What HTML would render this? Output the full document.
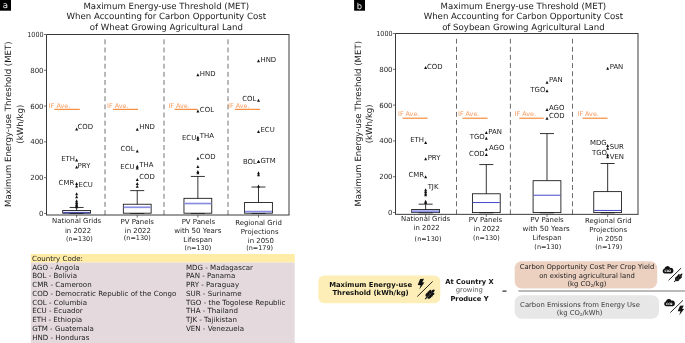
<!DOCTYPE html>
<html><head><meta charset="utf-8"><title>Maximum Energy-use Threshold (MET)</title>
<style>
html,body{margin:0;padding:0;background:#fff;}
body{width:685px;height:343px;overflow:hidden;}
svg{display:block;font-family:"DejaVu Sans","Liberation Sans",sans-serif;will-change:transform;text-rendering:geometricPrecision;}
</style></head><body>
<svg width="685" height="343" viewBox="0 0 685 343">
<rect x="0" y="0" width="685" height="343" fill="#fff"/>
<rect x="30.8" y="253.9" width="263.9" height="8.7" fill="#ffeca6"/>
<rect x="30.8" y="262.6" width="263.9" height="81" fill="#e4dadd"/>
<text x="32.1" y="261.2" font-size="7.09" fill="#222">Country Code:</text>
<text x="32.2" y="269.75" font-size="7.09" fill="#1c1c1c">AGO - Angola</text>
<text x="32.2" y="278.48" font-size="7.09" fill="#1c1c1c">BOL - Bolivia</text>
<text x="32.2" y="287.21" font-size="7.09" fill="#1c1c1c">CMR - Cameroon</text>
<text x="32.2" y="295.94" font-size="7.09" fill="#1c1c1c">COD - Democratic Republic of the Congo</text>
<text x="32.2" y="304.67" font-size="7.09" fill="#1c1c1c">COL - Columbia</text>
<text x="32.2" y="313.40" font-size="7.09" fill="#1c1c1c">ECU - Ecuador</text>
<text x="32.2" y="322.13" font-size="7.09" fill="#1c1c1c">ETH - Ethiopia</text>
<text x="32.2" y="330.86" font-size="7.09" fill="#1c1c1c">GTM - Guatemala</text>
<text x="32.2" y="339.59" font-size="7.09" fill="#1c1c1c">HND - Honduras</text>
<text x="186.0" y="269.75" font-size="7.09" fill="#1c1c1c">MDG - Madagascar</text>
<text x="186.0" y="278.48" font-size="7.09" fill="#1c1c1c">PAN - Panama</text>
<text x="186.0" y="287.21" font-size="7.09" fill="#1c1c1c">PRY - Paraguay</text>
<text x="186.0" y="295.94" font-size="7.09" fill="#1c1c1c">SUR - Suriname</text>
<text x="186.0" y="304.67" font-size="7.09" fill="#1c1c1c">TGO - the Togolese Republic</text>
<text x="186.0" y="313.40" font-size="7.09" fill="#1c1c1c">THA - Thailand</text>
<text x="186.0" y="322.13" font-size="7.09" fill="#1c1c1c">TJK - Tajikistan</text>
<text x="186.0" y="330.86" font-size="7.09" fill="#1c1c1c">VEN - Venezuela</text>
<rect x="0" y="0" width="11.0" height="10.7" fill="#000"/>
<text x="5.5" y="7.9" font-size="8.61" text-anchor="middle" fill="#eee">a</text>
<text x="166.3" y="8.7" font-size="8.59" text-anchor="middle" fill="#1a1a1a">Maximum Energy-use Threshold (MET)</text>
<text x="166.3" y="19.2" font-size="8.59" text-anchor="middle" fill="#1a1a1a">When Accounting for Carbon Opportunity Cost</text>
<text x="166.3" y="29.7" font-size="8.59" text-anchor="middle" fill="#1a1a1a">of Wheat Growing Agricultural Land</text>
<line x1="105.0" y1="215.0" x2="105.0" y2="38.8" stroke="#727272" stroke-width="1" stroke-dasharray="4.9 3.23"/>
<line x1="164.0" y1="215.0" x2="164.0" y2="38.8" stroke="#727272" stroke-width="1" stroke-dasharray="4.9 3.23"/>
<line x1="228.0" y1="215.0" x2="228.0" y2="38.8" stroke="#727272" stroke-width="1" stroke-dasharray="4.9 3.23"/>
<line x1="54.3" y1="109.35" x2="79.8" y2="109.35" stroke="#f5832f" stroke-width="1.1"/>
<text x="48.8" y="108.44999999999999" font-size="6.41" fill="#f79a5c">IF Ave.</text>
<line x1="113" y1="109.35" x2="138" y2="109.35" stroke="#f5832f" stroke-width="1.1"/>
<text x="107.1" y="108.44999999999999" font-size="6.41" fill="#f79a5c">IF Ave.</text>
<line x1="174.5" y1="109.35" x2="197.5" y2="109.35" stroke="#f5832f" stroke-width="1.1"/>
<text x="168.4" y="108.44999999999999" font-size="6.41" fill="#f79a5c">IF Ave.</text>
<line x1="234.8" y1="109.35" x2="260" y2="109.35" stroke="#f5832f" stroke-width="1.1"/>
<text x="228.1" y="108.44999999999999" font-size="6.41" fill="#f79a5c">IF Ave.</text>
<rect x="62.71" y="210.51" width="27.80" height="2.69" fill="#fff" stroke="#111" stroke-width="0.85"/>
<line x1="63.11" y1="212.57" x2="90.11" y2="212.57" stroke="#474bb0" stroke-width="1.4"/>
<line x1="76.61" y1="210.51" x2="76.61" y2="207.46" stroke="#111" stroke-width="0.85"/>
<line x1="69.61" y1="207.46" x2="83.61" y2="207.46" stroke="#111" stroke-width="0.85"/>
<line x1="69.61" y1="213.50" x2="83.61" y2="213.50" stroke="#111" stroke-width="0.7"/>
<rect x="123.34" y="204.23" width="27.80" height="8.97" fill="#fff" stroke="#111" stroke-width="0.85"/>
<line x1="123.74" y1="207.28" x2="150.74" y2="207.28" stroke="#8a8ee2" stroke-width="1.7"/>
<line x1="137.24" y1="204.23" x2="137.24" y2="190.61" stroke="#111" stroke-width="0.85"/>
<line x1="130.24" y1="190.61" x2="144.24" y2="190.61" stroke="#111" stroke-width="0.85"/>
<line x1="130.24" y1="213.50" x2="144.24" y2="213.50" stroke="#111" stroke-width="0.7"/>
<rect x="183.96" y="198.32" width="27.80" height="14.88" fill="#fff" stroke="#111" stroke-width="0.85"/>
<line x1="184.36" y1="203.52" x2="211.36" y2="203.52" stroke="#8a8ee2" stroke-width="1.7"/>
<line x1="197.86" y1="198.32" x2="197.86" y2="176.44" stroke="#111" stroke-width="0.85"/>
<line x1="190.86" y1="176.44" x2="204.86" y2="176.44" stroke="#111" stroke-width="0.85"/>
<line x1="190.86" y1="213.50" x2="204.86" y2="213.50" stroke="#111" stroke-width="0.7"/>
<rect x="244.59" y="202.44" width="27.80" height="10.76" fill="#fff" stroke="#111" stroke-width="0.85"/>
<line x1="244.99" y1="211.59" x2="271.99" y2="211.59" stroke="#8a8ee2" stroke-width="1.7"/>
<line x1="258.49" y1="202.44" x2="258.49" y2="187.02" stroke="#111" stroke-width="0.85"/>
<line x1="251.49" y1="187.02" x2="265.49" y2="187.02" stroke="#111" stroke-width="0.85"/>
<line x1="251.49" y1="213.50" x2="265.49" y2="213.50" stroke="#111" stroke-width="0.7"/>
<path d="M75.11 130.43L78.11 130.43L76.61 127.43Z" fill="#111"/>
<text x="77.41" y="129.03" font-size="6.93" fill="#222">COD</text>
<path d="M75.11 161.45L78.11 161.45L76.61 158.45Z" fill="#111"/>
<text x="75.01" y="160.85" font-size="6.93" text-anchor="end" fill="#222">ETH</text>
<path d="M75.11 168.44L78.11 168.44L76.61 165.44Z" fill="#111"/>
<text x="77.61" y="167.54" font-size="6.93" fill="#222">PRY</text>
<path d="M75.11 184.94L78.11 184.94L76.61 181.94Z" fill="#111"/>
<text x="74.21" y="185.14" font-size="6.93" text-anchor="end" fill="#222">CMR</text>
<path d="M75.11 187.45L78.11 187.45L76.61 184.45Z" fill="#111"/>
<text x="78.61" y="187.25" font-size="6.93" fill="#222">ECU</text>
<path d="M75.11 195.34L78.11 195.34L76.61 192.34Z" fill="#111"/>
<path d="M75.11 198.20L78.11 198.20L76.61 195.20Z" fill="#111"/>
<path d="M75.11 202.15L78.11 202.15L76.61 199.15Z" fill="#111"/>
<path d="M75.11 203.94L78.11 203.94L76.61 200.94Z" fill="#111"/>
<path d="M75.11 205.38L78.11 205.38L76.61 202.38Z" fill="#111"/>
<path d="M75.11 206.45L78.11 206.45L76.61 203.45Z" fill="#111"/>
<path d="M75.11 207.53L78.11 207.53L76.61 204.53Z" fill="#111"/>
<path d="M75.11 208.25L78.11 208.25L76.61 205.25Z" fill="#111"/>
<path d="M135.74 130.79L138.74 130.79L137.24 127.79Z" fill="#111"/>
<text x="139.24" y="129.29" font-size="6.93" fill="#222">HND</text>
<path d="M135.74 152.48L138.74 152.48L137.24 149.48Z" fill="#111"/>
<text x="134.64" y="150.58" font-size="6.93" text-anchor="end" fill="#222">COL</text>
<path d="M135.74 167.72L138.74 167.72L137.24 164.72Z" fill="#111"/>
<text x="134.64" y="168.62" font-size="6.93" text-anchor="end" fill="#222">ECU</text>
<path d="M135.74 169.52L138.74 169.52L137.24 166.52Z" fill="#111"/>
<text x="139.24" y="166.62" font-size="6.93" fill="#222">THA</text>
<path d="M135.74 180.99L138.74 180.99L137.24 177.99Z" fill="#111"/>
<text x="139.24" y="178.79" font-size="6.93" fill="#222">COD</text>
<path d="M135.74 184.94L138.74 184.94L137.24 181.94Z" fill="#111"/>
<path d="M135.74 187.81L138.74 187.81L137.24 184.81Z" fill="#111"/>
<path d="M196.36 76.28L199.36 76.28L197.86 73.28Z" fill="#111"/>
<text x="199.86" y="76.08" font-size="6.93" fill="#222">HND</text>
<path d="M196.36 112.50L199.36 112.50L197.86 109.50Z" fill="#111"/>
<text x="199.86" y="112.30" font-size="6.93" fill="#222">COL</text>
<path d="M196.36 138.68L199.36 138.68L197.86 135.68Z" fill="#111"/>
<text x="196.26" y="139.68" font-size="6.93" text-anchor="end" fill="#222">ECU</text>
<path d="M196.36 140.83L199.36 140.83L197.86 137.83Z" fill="#111"/>
<text x="199.86" y="138.43" font-size="6.93" fill="#222">THA</text>
<path d="M196.36 159.65L199.36 159.65L197.86 156.65Z" fill="#111"/>
<text x="199.86" y="159.05" font-size="6.93" fill="#222">COD</text>
<path d="M196.36 168.08L199.36 168.08L197.86 165.08Z" fill="#111"/>
<path d="M196.36 173.10L199.36 173.10L197.86 170.10Z" fill="#111"/>
<path d="M196.36 174.18L199.36 174.18L197.86 171.18Z" fill="#111"/>
<path d="M256.99 62.29L259.99 62.29L258.49 59.29Z" fill="#111"/>
<text x="260.49" y="62.09" font-size="6.93" fill="#222">HND</text>
<path d="M256.99 101.74L259.99 101.74L258.49 98.74Z" fill="#111"/>
<text x="256.39" y="100.84" font-size="6.93" text-anchor="end" fill="#222">COL</text>
<path d="M256.99 133.12L259.99 133.12L258.49 130.12Z" fill="#111"/>
<text x="260.49" y="132.22" font-size="6.93" fill="#222">ECU</text>
<path d="M256.99 163.06L259.99 163.06L258.49 160.06Z" fill="#111"/>
<text x="256.89" y="163.56" font-size="6.93" text-anchor="end" fill="#222">BOL</text>
<path d="M256.99 163.06L259.99 163.06L258.49 160.06Z" fill="#111"/>
<text x="260.49" y="162.86" font-size="6.93" fill="#222">GTM</text>
<path d="M256.99 174.18L259.99 174.18L258.49 171.18Z" fill="#111"/>
<path d="M256.99 176.15L259.99 176.15L258.49 173.15Z" fill="#111"/>
<path d="M256.99 187.45L259.99 187.45L258.49 184.45Z" fill="#111"/>
<path d="M46.5 215.0L46.5 34.5L289.0 34.5" fill="none" stroke="#3a3a3a" stroke-width="1" stroke-linejoin="miter"/>
<path d="M46.0 215.0L289.5 215.0M289.0 34.0L289.0 215.0" fill="none" stroke="#3a3a3a" stroke-width="1"/>
<line x1="43.9" y1="213.45" x2="46.5" y2="213.45" stroke="#3a3a3a" stroke-width="0.7"/>
<text x="43.6" y="216.00" font-size="7.04" text-anchor="end" fill="#222">0</text>
<line x1="43.9" y1="177.66" x2="46.5" y2="177.66" stroke="#3a3a3a" stroke-width="0.7"/>
<text x="43.6" y="180.21" font-size="7.04" text-anchor="end" fill="#222">200</text>
<line x1="43.9" y1="141.87" x2="46.5" y2="141.87" stroke="#3a3a3a" stroke-width="0.7"/>
<text x="43.6" y="144.42" font-size="7.04" text-anchor="end" fill="#222">400</text>
<line x1="43.9" y1="106.08" x2="46.5" y2="106.08" stroke="#3a3a3a" stroke-width="0.7"/>
<text x="43.6" y="108.63" font-size="7.04" text-anchor="end" fill="#222">600</text>
<line x1="43.9" y1="70.29" x2="46.5" y2="70.29" stroke="#3a3a3a" stroke-width="0.7"/>
<text x="43.6" y="72.84" font-size="7.04" text-anchor="end" fill="#222">800</text>
<line x1="43.9" y1="34.50" x2="46.5" y2="34.50" stroke="#3a3a3a" stroke-width="0.7"/>
<text x="43.6" y="37.05" font-size="7.04" text-anchor="end" fill="#222" textLength="16.3" lengthAdjust="spacingAndGlyphs">1000</text>
<line x1="76.61" y1="215.0" x2="76.61" y2="217.6" stroke="#3a3a3a" stroke-width="0.7"/>
<text x="76.61" y="223.3" font-size="6.93" text-anchor="middle" fill="#222">National Grids</text>
<text x="78.01" y="232.7" font-size="6.93" text-anchor="middle" fill="#222">in 2022</text>
<text x="79.31" y="240.9" font-size="6.46" text-anchor="middle" fill="#222">(n=130)</text>
<line x1="137.24" y1="215.0" x2="137.24" y2="217.6" stroke="#3a3a3a" stroke-width="0.7"/>
<text x="137.24" y="223.6" font-size="6.93" text-anchor="middle" fill="#222">PV Panels</text>
<text x="137.84" y="232.6" font-size="6.93" text-anchor="middle" fill="#222">in 2022</text>
<text x="137.24" y="239.8" font-size="6.46" text-anchor="middle" fill="#222">(n=130)</text>
<line x1="197.86" y1="215.0" x2="197.86" y2="217.6" stroke="#3a3a3a" stroke-width="0.7"/>
<text x="198.36" y="224.1" font-size="6.93" text-anchor="middle" fill="#222">PV Panels</text>
<text x="197.86" y="232.9" font-size="7.09" text-anchor="middle" fill="#222">with 50 Years</text>
<text x="197.86" y="242.0" font-size="6.93" text-anchor="middle" fill="#222">Lifespan</text>
<text x="197.86" y="250.0" font-size="6.46" text-anchor="middle" fill="#222">(n=130)</text>
<line x1="258.49" y1="215.0" x2="258.49" y2="217.6" stroke="#3a3a3a" stroke-width="0.7"/>
<text x="258.49" y="224.8" font-size="6.93" text-anchor="middle" fill="#222">Regional Grid</text>
<text x="259.69" y="233.8" font-size="6.93" text-anchor="middle" fill="#222">Projections</text>
<text x="260.79" y="242.5" font-size="6.93" text-anchor="middle" fill="#222">in 2050</text>
<text x="259.59" y="250.4" font-size="6.46" text-anchor="middle" fill="#222">(n=179)</text>
<text transform="translate(11.35,124.20) rotate(-90)" font-size="8.59" text-anchor="middle" fill="#1a1a1a">Maximum Energy-use Threshold (MET)</text>
<text transform="translate(22.5,124.20) rotate(-90)" font-size="8.59" text-anchor="middle" fill="#1a1a1a">(kWh/kg)</text>
<rect x="354.1" y="0" width="10.9" height="10.7" fill="#000"/>
<text x="359.4" y="8.6" font-size="8.29" text-anchor="middle" fill="#eee">b</text>
<text x="523.4" y="8.7" font-size="8.59" text-anchor="middle" fill="#1a1a1a">Maximum Energy-use Threshold (MET)</text>
<text x="523.4" y="19.2" font-size="8.59" text-anchor="middle" fill="#1a1a1a">When Accounting for Carbon Opportunity Cost</text>
<text x="523.4" y="29.7" font-size="8.59" text-anchor="middle" fill="#1a1a1a">of Soybean Growing Agricultural Land</text>
<line x1="456.5" y1="214.35" x2="456.5" y2="38.8" stroke="#6c6c6c" stroke-width="1" stroke-dasharray="4.9 3.23"/>
<line x1="510.4" y1="214.35" x2="510.4" y2="38.8" stroke="#6c6c6c" stroke-width="1" stroke-dasharray="4.9 3.23"/>
<line x1="572.5" y1="214.35" x2="572.5" y2="38.8" stroke="#6c6c6c" stroke-width="1" stroke-dasharray="4.9 3.23"/>
<line x1="402.5" y1="118.2" x2="427.5" y2="118.2" stroke="#f5832f" stroke-width="1.1"/>
<text x="398" y="116.2" font-size="6.41" fill="#f79a5c">IF Ave.</text>
<line x1="462.5" y1="118.2" x2="487.5" y2="118.2" stroke="#f5832f" stroke-width="1.1"/>
<text x="458" y="116.2" font-size="6.41" fill="#f79a5c">IF Ave.</text>
<line x1="519.3" y1="118.2" x2="543.7" y2="118.2" stroke="#f5832f" stroke-width="1.1"/>
<text x="514.7" y="116.2" font-size="6.41" fill="#f79a5c">IF Ave.</text>
<line x1="582.5" y1="118.2" x2="607.5" y2="118.2" stroke="#f5832f" stroke-width="1.1"/>
<text x="577.5" y="116.2" font-size="6.41" fill="#f79a5c">IF Ave.</text>
<rect x="411.74" y="209.55" width="27.80" height="3.05" fill="#fff" stroke="#111" stroke-width="0.85"/>
<line x1="412.14" y1="211.26" x2="439.14" y2="211.26" stroke="#9498e8" stroke-width="2.0"/>
<line x1="425.64" y1="209.55" x2="425.64" y2="204.18" stroke="#111" stroke-width="0.85"/>
<line x1="418.64" y1="204.18" x2="432.64" y2="204.18" stroke="#111" stroke-width="0.85"/>
<line x1="418.64" y1="212.90" x2="432.64" y2="212.90" stroke="#111" stroke-width="0.7"/>
<rect x="472.41" y="193.78" width="27.80" height="18.82" fill="#fff" stroke="#111" stroke-width="0.85"/>
<line x1="472.81" y1="202.56" x2="499.81" y2="202.56" stroke="#4448c4" stroke-width="1.0"/>
<line x1="486.31" y1="193.78" x2="486.31" y2="164.57" stroke="#111" stroke-width="0.85"/>
<line x1="479.31" y1="164.57" x2="493.31" y2="164.57" stroke="#111" stroke-width="0.85"/>
<line x1="479.31" y1="212.90" x2="493.31" y2="212.90" stroke="#111" stroke-width="0.7"/>
<rect x="533.09" y="180.70" width="27.80" height="31.90" fill="#fff" stroke="#111" stroke-width="0.85"/>
<line x1="533.49" y1="195.22" x2="560.49" y2="195.22" stroke="#4448c4" stroke-width="1.0"/>
<line x1="546.99" y1="180.70" x2="546.99" y2="133.57" stroke="#111" stroke-width="0.85"/>
<line x1="539.99" y1="133.57" x2="553.99" y2="133.57" stroke="#111" stroke-width="0.85"/>
<line x1="539.99" y1="212.90" x2="553.99" y2="212.90" stroke="#111" stroke-width="0.7"/>
<rect x="593.76" y="191.63" width="27.80" height="20.97" fill="#fff" stroke="#111" stroke-width="0.85"/>
<line x1="594.16" y1="210.45" x2="621.16" y2="210.45" stroke="#4448c4" stroke-width="1.0"/>
<line x1="607.66" y1="191.63" x2="607.66" y2="163.50" stroke="#111" stroke-width="0.85"/>
<line x1="600.66" y1="163.50" x2="614.66" y2="163.50" stroke="#111" stroke-width="0.85"/>
<line x1="600.66" y1="212.90" x2="614.66" y2="212.90" stroke="#111" stroke-width="0.7"/>
<path d="M424.14 68.95L427.14 68.95L425.64 65.95Z" fill="#111"/>
<text x="426.94" y="68.65" font-size="6.93" fill="#222">COD</text>
<path d="M424.14 144.03L427.14 144.03L425.64 141.03Z" fill="#111"/>
<text x="424.04" y="141.93" font-size="6.93" text-anchor="end" fill="#222">ETH</text>
<path d="M424.14 160.34L427.14 160.34L425.64 157.34Z" fill="#111"/>
<text x="427.64" y="160.14" font-size="6.93" fill="#222">PRY</text>
<path d="M424.14 178.35L427.14 178.35L425.64 175.35Z" fill="#111"/>
<text x="424.04" y="176.85" font-size="6.93" text-anchor="end" fill="#222">CMR</text>
<path d="M424.14 191.16L427.14 191.16L425.64 188.16Z" fill="#111"/>
<text x="427.64" y="188.96" font-size="6.93" fill="#222">TJK</text>
<path d="M424.14 192.95L427.14 192.95L425.64 189.95Z" fill="#111"/>
<path d="M424.14 194.75L427.14 194.75L425.64 191.75Z" fill="#111"/>
<path d="M424.14 196.18L427.14 196.18L425.64 193.18Z" fill="#111"/>
<path d="M424.14 202.63L427.14 202.63L425.64 199.63Z" fill="#111"/>
<path d="M424.14 204.06L427.14 204.06L425.64 201.06Z" fill="#111"/>
<path d="M484.81 134.09L487.81 134.09L486.31 131.09Z" fill="#111"/>
<text x="488.31" y="133.59" font-size="6.93" fill="#222">PAN</text>
<path d="M484.81 139.82L487.81 139.82L486.31 136.82Z" fill="#111"/>
<text x="484.71" y="139.42" font-size="6.93" text-anchor="end" fill="#222">TGO</text>
<path d="M484.81 150.75L487.81 150.75L486.31 147.75Z" fill="#111"/>
<text x="489.01" y="150.25" font-size="6.93" fill="#222">AGO</text>
<path d="M484.81 155.95L487.81 155.95L486.31 152.95Z" fill="#111"/>
<text x="484.71" y="155.55" font-size="6.93" text-anchor="end" fill="#222">COD</text>
<path d="M545.49 83.64L548.49 83.64L546.99 80.64Z" fill="#111"/>
<text x="548.99" y="82.19" font-size="6.93" fill="#222">PAN</text>
<path d="M545.49 92.24L548.49 92.24L546.99 89.24Z" fill="#111"/>
<text x="545.39" y="91.94" font-size="6.93" text-anchor="end" fill="#222">TGO</text>
<path d="M545.49 111.06L548.49 111.06L546.99 108.06Z" fill="#111"/>
<text x="548.99" y="110.46" font-size="6.93" fill="#222">AGO</text>
<path d="M545.49 119.66L548.49 119.66L546.99 116.66Z" fill="#111"/>
<text x="548.99" y="118.46" font-size="6.93" fill="#222">COD</text>
<path d="M606.16 69.84L609.16 69.84L607.66 66.84Z" fill="#111"/>
<text x="609.66" y="69.34" font-size="6.93" fill="#222">PAN</text>
<path d="M606.16 146.90L609.16 146.90L607.66 143.90Z" fill="#111"/>
<text x="606.66" y="144.70" font-size="6.93" text-anchor="end" fill="#222">MDG</text>
<path d="M606.16 149.84L609.16 149.84L607.66 146.84Z" fill="#111"/>
<text x="609.66" y="149.34" font-size="6.93" fill="#222">SUR</text>
<path d="M606.16 156.22L609.16 156.22L607.66 153.22Z" fill="#111"/>
<text x="606.96" y="154.82" font-size="6.93" text-anchor="end" fill="#222">TGO</text>
<path d="M606.16 158.19L609.16 158.19L607.66 155.19Z" fill="#111"/>
<text x="609.66" y="158.79" font-size="6.93" fill="#222">VEN</text>
<path d="M395.5 214.35L395.5 33.5L638.0 33.5" fill="none" stroke="#3a3a3a" stroke-width="1" stroke-linejoin="miter"/>
<path d="M395.0 214.35L638.5 214.35M638.0 33.0L638.0 214.35" fill="none" stroke="#3a3a3a" stroke-width="1"/>
<line x1="392.9" y1="212.50" x2="395.5" y2="212.50" stroke="#3a3a3a" stroke-width="0.7"/>
<text x="392.6" y="215.05" font-size="7.04" text-anchor="end" fill="#222">0</text>
<line x1="392.9" y1="176.70" x2="395.5" y2="176.70" stroke="#3a3a3a" stroke-width="0.7"/>
<text x="392.6" y="179.25" font-size="7.04" text-anchor="end" fill="#222">200</text>
<line x1="392.9" y1="140.90" x2="395.5" y2="140.90" stroke="#3a3a3a" stroke-width="0.7"/>
<text x="392.6" y="143.45" font-size="7.04" text-anchor="end" fill="#222">400</text>
<line x1="392.9" y1="105.10" x2="395.5" y2="105.10" stroke="#3a3a3a" stroke-width="0.7"/>
<text x="392.6" y="107.65" font-size="7.04" text-anchor="end" fill="#222">600</text>
<line x1="392.9" y1="69.30" x2="395.5" y2="69.30" stroke="#3a3a3a" stroke-width="0.7"/>
<text x="392.6" y="71.85" font-size="7.04" text-anchor="end" fill="#222">800</text>
<line x1="392.9" y1="33.50" x2="395.5" y2="33.50" stroke="#3a3a3a" stroke-width="0.7"/>
<text x="392.6" y="36.05" font-size="7.04" text-anchor="end" fill="#222" textLength="16.3" lengthAdjust="spacingAndGlyphs">1000</text>
<line x1="425.64" y1="214.35" x2="425.64" y2="216.95" stroke="#3a3a3a" stroke-width="0.7"/>
<text x="425.64" y="221.4" font-size="6.93" text-anchor="middle" fill="#222">National Grids</text>
<text x="426.64" y="230.0" font-size="6.93" text-anchor="middle" fill="#222">in 2022</text>
<text x="428.04" y="240.6" font-size="6.46" text-anchor="middle" fill="#222">(n=130)</text>
<line x1="486.31" y1="214.35" x2="486.31" y2="216.95" stroke="#3a3a3a" stroke-width="0.7"/>
<text x="485.51" y="222.4" font-size="6.93" text-anchor="middle" fill="#222">PV Panels</text>
<text x="486.81" y="231.4" font-size="6.93" text-anchor="middle" fill="#222">in 2022</text>
<text x="486.31" y="239.5" font-size="6.46" text-anchor="middle" fill="#222">(n=130)</text>
<line x1="546.99" y1="214.35" x2="546.99" y2="216.95" stroke="#3a3a3a" stroke-width="0.7"/>
<text x="546.99" y="222.3" font-size="6.93" text-anchor="middle" fill="#222">PV Panels</text>
<text x="546.19" y="231.2" font-size="7.09" text-anchor="middle" fill="#222">with 50 Years</text>
<text x="546.99" y="239.5" font-size="6.93" text-anchor="middle" fill="#222">Lifespan</text>
<text x="547.79" y="248.7" font-size="6.46" text-anchor="middle" fill="#222">(n=130)</text>
<line x1="607.66" y1="214.35" x2="607.66" y2="216.95" stroke="#3a3a3a" stroke-width="0.7"/>
<text x="608.36" y="222.7" font-size="6.93" text-anchor="middle" fill="#222">Regional Grid</text>
<text x="608.16" y="232.1" font-size="6.93" text-anchor="middle" fill="#222">Projections</text>
<text x="609.56" y="241.2" font-size="6.93" text-anchor="middle" fill="#222">in 2050</text>
<text x="608.76" y="249.0" font-size="6.46" text-anchor="middle" fill="#222">(n=179)</text>
<text transform="translate(361.1,123.80) rotate(-90)" font-size="8.59" text-anchor="middle" fill="#1a1a1a">Maximum Energy-use Threshold (MET)</text>
<text transform="translate(372.3,123.80) rotate(-90)" font-size="8.59" text-anchor="middle" fill="#1a1a1a">(kWh/kg)</text>
<rect x="318.3" y="275.5" width="122.0" height="27.8" rx="6" ry="6" fill="#fdeeb8"/>
<text x="370.6" y="286.6" font-size="6.83" text-anchor="middle" fill="#111" font-weight="bold">Maximum Energy-use</text>
<text x="370.6" y="294.7" font-size="6.88" text-anchor="middle" fill="#111" font-weight="bold">Threshold (kWh/kg)</text>
<text x="469.5" y="283.9" font-size="6.72" text-anchor="middle" fill="#111" font-weight="bold">At Country X</text>
<text x="469.3" y="291.9" font-size="6.83" text-anchor="middle" fill="#555">growing</text>
<text x="469.5" y="300.5" font-size="6.72" text-anchor="middle" fill="#111" font-weight="bold">Produce Y</text>
<text x="504.6" y="292.7" font-size="6.51" text-anchor="middle" fill="#333">=</text>
<rect x="514.7" y="261.2" width="142.5" height="27.3" rx="7" ry="7" fill="#ecd1c1"/>
<text x="587" y="269.0" font-size="6.83" text-anchor="middle" fill="#222">Carbon Opportunity Cost Per Crop Yield</text>
<text x="587" y="277.6" font-size="6.83" text-anchor="middle" fill="#222">on existing agricultural land</text>
<text x="587" y="285.7" font-size="6.83" text-anchor="middle" fill="#222">(kg CO<tspan font-size="4" dy="0.8">2</tspan><tspan dy="-0.8">/kg)</tspan></text>
<line x1="518.4" y1="290.9" x2="685" y2="290.9" stroke="#a3a3a3" stroke-width="1.5"/>
<rect x="514.7" y="295.2" width="144.3" height="23.5" rx="7" ry="7" fill="#e7e7e7"/>
<text x="580" y="306.5" font-size="6.83" text-anchor="middle" fill="#3a3a3a">Carbon Emissions from Energy Use</text>
<text x="579.6" y="315.4" font-size="6.83" text-anchor="middle" fill="#3a3a3a">(kg CO<tspan font-size="4" dy="0.8">2</tspan><tspan dy="-0.8">/kWh)</tspan></text>
<path d="M420.11 278.92L424.06 278.70L422.32 282.30L424.40 282.62L419.38 289.60L420.58 285.24L417.70 285.02Z" fill="#111"/>
<line x1="417.3" y1="296.5" x2="432.7" y2="281.4" stroke="#111" stroke-width="0.9"/>
<g transform="translate(425.5,288.9) scale(1.22) rotate(45 4 4)" fill="#111">
<ellipse cx="4" cy="1.0" rx="1.05" ry="1.7"/>
<ellipse cx="2.55" cy="2.9" rx="1.05" ry="1.6" transform="rotate(-28 2.55 2.9)"/>
<ellipse cx="5.45" cy="2.9" rx="1.05" ry="1.6" transform="rotate(28 5.45 2.9)"/>
<ellipse cx="2.55" cy="4.8" rx="1.05" ry="1.6" transform="rotate(-28 2.55 4.8)"/>
<ellipse cx="5.45" cy="4.8" rx="1.05" ry="1.6" transform="rotate(28 5.45 4.8)"/>
<ellipse cx="2.55" cy="6.699999999999999" rx="1.05" ry="1.6" transform="rotate(-28 2.55 6.699999999999999)"/>
<ellipse cx="5.45" cy="6.699999999999999" rx="1.05" ry="1.6" transform="rotate(28 5.45 6.699999999999999)"/>
<rect x="3.6" y="1" width="0.8" height="9.2"/>
</g>
<g transform="translate(662.2,265.9) scale(1.08 1.17)">
<path d="M2.1 6.5A2.05 2.05 0 0 1 2.0 2.5A2.9 2.9 0 0 1 7.4 1.7A2.45 2.45 0 0 1 8.4 6.5Z" fill="#111"/>
<text x="5.2" y="5.6" font-size="2.7" text-anchor="middle" fill="#fff" font-weight="bold">CO2</text>
</g>
<line x1="668.6" y1="280.3" x2="681.1" y2="268.1" stroke="#111" stroke-width="0.9"/>
<g transform="translate(674.6,273.1) scale(1.05) rotate(45 4 4)" fill="#111">
<ellipse cx="4" cy="1.0" rx="0.84" ry="1.7"/>
<ellipse cx="2.84" cy="2.9" rx="0.84" ry="1.6" transform="rotate(-28 2.84 2.9)"/>
<ellipse cx="5.16" cy="2.9" rx="0.84" ry="1.6" transform="rotate(28 5.16 2.9)"/>
<ellipse cx="2.84" cy="4.8" rx="0.84" ry="1.6" transform="rotate(-28 2.84 4.8)"/>
<ellipse cx="5.16" cy="4.8" rx="0.84" ry="1.6" transform="rotate(28 5.16 4.8)"/>
<ellipse cx="2.84" cy="6.699999999999999" rx="0.84" ry="1.6" transform="rotate(-28 2.84 6.699999999999999)"/>
<ellipse cx="5.16" cy="6.699999999999999" rx="0.84" ry="1.6" transform="rotate(28 5.16 6.699999999999999)"/>
<rect x="3.6" y="1" width="0.8" height="9.2"/>
</g>
<g transform="translate(663.7,298.7) scale(1.08 1.15)">
<path d="M2.1 6.5A2.05 2.05 0 0 1 2.0 2.5A2.9 2.9 0 0 1 7.4 1.7A2.45 2.45 0 0 1 8.4 6.5Z" fill="#111"/>
<text x="5.2" y="5.6" font-size="2.7" text-anchor="middle" fill="#fff" font-weight="bold">CO2</text>
</g>
<line x1="670.3" y1="312.6" x2="683.0" y2="300.3" stroke="#111" stroke-width="0.9"/>
<path d="M680.00 305.69L683.78 305.50L682.12 308.70L684.10 308.99L679.30 315.20L680.45 311.32L677.70 311.13Z" fill="#111"/>
</svg></body></html>
